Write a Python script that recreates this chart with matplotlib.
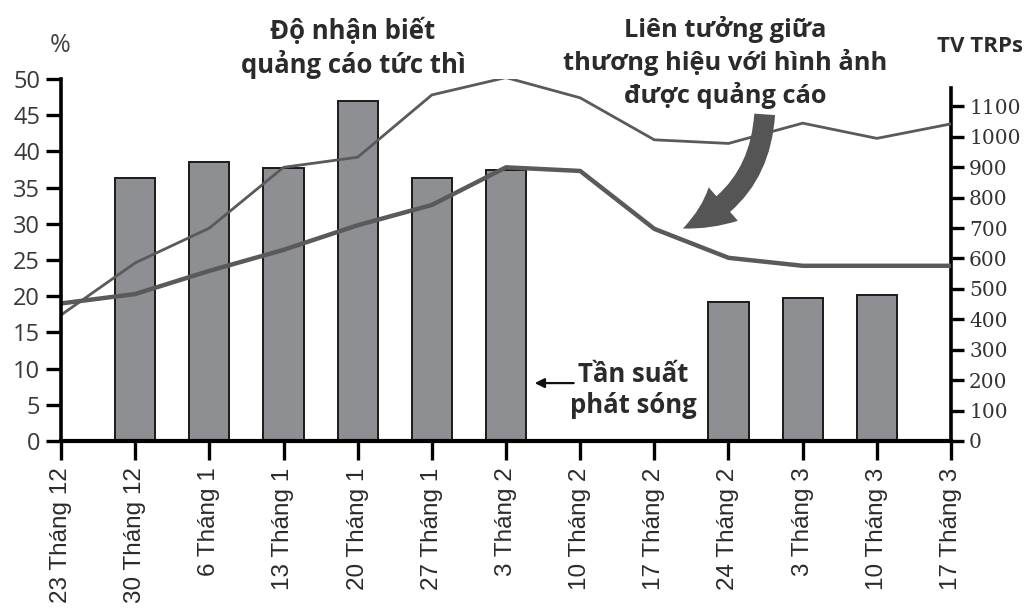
import numpy as np
import matplotlib
matplotlib.use("Agg")
import matplotlib.pyplot as plt
from matplotlib.patches import FancyArrowPatch

# weekly dates (x axis)
dates = ["23 Tháng 12", "30 Tháng 12", "6 Tháng 1", "13 Tháng 1", "20 Tháng 1",
         "27 Tháng 1", "3 Tháng 2", "10 Tháng 2", "17 Tháng 2", "24 Tháng 2",
         "3 Tháng 3", "10 Tháng 3", "17 Tháng 3"]

# % series (left axis)
awareness = [17.4, 24.6, 29.4, 37.8, 39.2, 47.8, 50.2, 47.4, 41.6, 41.1, 43.9, 41.8, 43.8]
association = [19.0, 20.3, 23.5, 26.4, 29.8, 32.6, 37.8, 37.3, 29.3, 25.3, 24.2, 24.2, 24.2]

# TV TRPs per week (right axis), 0 = no airing
trps = [0, 866, 918, 898, 1118, 866, 892, 0, 0, 456, 469, 480, 0]

left_ticks = list(range(0, 55, 5))
right_ticks = list(range(0, 1200, 100))

LINE = "#5a5a5a"
BAR = "#8d8f92"
TXT = "#2b2b2b"
W, H = 1027, 616

fig = plt.figure(figsize=(W / 100, H / 100), dpi=100)
ax = fig.add_axes([61 / W, 1 - 441 / H, 890 / W, 362 / H])
ax2 = ax.twinx()

x = np.arange(len(dates))

# bars on the TRPs axis
bx = [i for i, v in enumerate(trps) if v > 0]
bv = [v for v in trps if v > 0]
ax2.bar(bx, bv, width=0.54, color=BAR, edgecolor="#1a1a1a", linewidth=1.4)
ax2.set_ylim(0, 1190)
ax2.set_yticks(right_ticks)
ax2.set_yticklabels([str(t) for t in right_ticks], family="DejaVu Serif",
                    fontsize=14.5, color="#333333")
ax2.tick_params(axis="y", direction="out", length=9, width=2.4, pad=4)
ax2.spines["right"].set_bounds(0, 1160)
ax2.spines["right"].set_linewidth(2.6)
for s in ("top", "left", "bottom"):
    ax2.spines[s].set_visible(False)

# lines on the % axis, drawn above bars
ax.set_zorder(ax2.get_zorder() + 1)
ax.patch.set_visible(False)
ax.plot(x, awareness, color=LINE, lw=2.0, solid_joinstyle="round")
ax.plot(x, association, color=LINE, lw=3.2, solid_joinstyle="round")

ax.set_xlim(0, 12)
ax.set_ylim(0, 50)
ax.set_yticks(left_ticks)
ax.set_yticklabels([str(t) for t in left_ticks], family="Open Sans",
                   fontsize=17, color="#383838")
ax.tick_params(axis="y", direction="out", length=11, width=2.4, pad=4)
ax.set_xticks(x)
ax.set_xticklabels(dates, rotation=90, va="top", ha="center",
                   family="Liberation Sans", fontsize=17.5, color=TXT)
ax.tick_params(axis="x", direction="out", length=14, width=2.4, pad=5)
for s in ("top", "right"):
    ax.spines[s].set_visible(False)
ax.spines["left"].set_linewidth(2.6)
ax.spines["bottom"].set_linewidth(3.0)

# axis titles
fig.text(60 / W, 1 - 45 / H, "%", family="Open Sans", fontsize=18,
         color="#444444", ha="center", va="center")
fig.text(980 / W, 1 - 46 / H, "TV TRPs", family="Open Sans", fontsize=16,
         fontweight="bold", color=TXT, ha="center", va="center")

# series labels (anchored at the last line's baseline)
fig.text(353 / W, 1 - 73 / H, "Độ nhận biết\nquảng cáo tức thì", family="Open Sans",
         fontsize=18.5, fontweight="bold", color=TXT, ha="center", va="baseline",
         linespacing=1.2)
fig.text(725 / W, 1 - 103 / H, "Liên tưởng giữa\nthương hiệu với hình ảnh\nđược quảng cáo",
         family="Open Sans", fontsize=18.3, fontweight="bold", color=TXT,
         ha="center", va="baseline", linespacing=1.28)
fig.text(633 / W, 1 - 413 / H, "Tần suất\nphát sóng", family="Open Sans",
         fontsize=18.5, fontweight="bold", color=TXT, ha="center", va="baseline",
         linespacing=1.18)

# small arrow to the bars
ax.annotate("", xy=(6.35, 8.0), xytext=(6.95, 8.0),
            arrowprops=dict(arrowstyle="-|>", color="#111111", lw=1.6,
                            mutation_scale=14))

# big curved arrow to the association line
big = FancyArrowPatch((9.49, 45.5), (8.35, 29.2),
                      connectionstyle="arc3,rad=-0.32",
                      arrowstyle="simple,head_length=34,head_width=32,tail_width=15",
                      mutation_scale=1, color="#555555", lw=0, zorder=5)
ax.add_patch(big)

fig.savefig("out.png", dpi=100, facecolor="white")
